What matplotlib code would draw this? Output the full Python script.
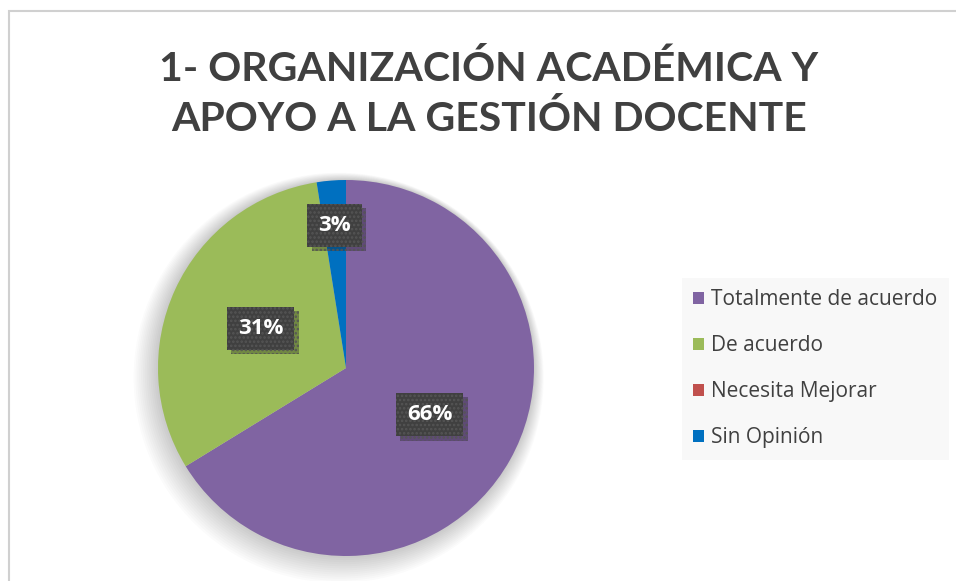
import matplotlib
matplotlib.use("Agg")
import matplotlib.pyplot as plt
from matplotlib.patches import Patch, Rectangle, Circle
import matplotlib.patheffects as pe
import math

# ---- data ----
title = "1- ORGANIZACIÓN ACADÉMICA Y\nAPOYO A LA GESTIÓN DOCENTE"
categories = ["Totalmente de acuerdo", "De acuerdo", "Necesita Mejorar", "Sin Opinión"]
counts = [53, 25, 0, 2]
colors = ["#8064A2", "#9BBB59", "#C0504D", "#0070C0"]
label_dist = [0.51, 0.50, 0.6, 0.76]

W, H = 956, 581
fig = plt.figure(figsize=(W / 100, H / 100), dpi=100)
fig.patch.set_facecolor("white")

# outer chart frame (light gray), right/bottom edges run off the picture
fig.add_artist(Rectangle((9 / W, -0.1), 1.2, 1 - 11 / H + 0.1, transform=fig.transFigure,
                         fill=False, ec="#d0d0d0", lw=1.5))

fig.text(489 / W, 1 - 94 / H, title, ha="center", va="center", fontsize=29.5,
         fontweight="bold", color="#404040", family="Lato", linespacing=1.4)

cx, cy, r = 346, 368, 188
ax = fig.add_axes([(cx - r) / W, (H - cy - r) / H, 2 * r / W, 2 * r / H])
ax.axis("off")

# soft shadow around pie
for k in range(14):
    ax.add_patch(Circle((-0.003 * k, -0.004 * k), 1 + 0.007 * k, color="black",
                        alpha=0.014, zorder=0, lw=0, clip_on=False))

wedges, _ = ax.pie(counts, colors=colors, startangle=90, counterclock=False,
                   radius=1, wedgeprops=dict(lw=0))
for w in wedges:
    w.set_zorder(2)
ax.set_xlim(-1, 1)
ax.set_ylim(-1, 1)
ax.set_aspect("equal")

total = sum(counts)
plt.rcParams["hatch.linewidth"] = 1.2
for w, c, d in zip(wedges, counts, label_dist):
    if c == 0:
        continue
    ang = math.radians((w.theta1 + w.theta2) / 2)
    x, y = d * math.cos(ang), d * math.sin(ang)
    pct = int(100 * c / total + 0.5)
    t = ax.text(x, y, f"{pct}%", ha="center", va="center", fontsize=16, fontweight="bold",
                color="white", family="Open Sans", zorder=5,
                bbox=dict(boxstyle="square,pad=0.5", fc="#404040", ec="#555555",
                          lw=0, hatch="...."))
    t.get_bbox_patch().set_path_effects([pe.SimplePatchShadow(offset=(3, -3), alpha=0.3),
                                         pe.Normal()])

handles = [Patch(fc=c, ec="none") for c in colors]
leg = fig.legend(handles, categories, loc="upper left", bbox_to_anchor=(682 / W, 1 - 278 / H),
                 frameon=True, fancybox=False, borderaxespad=0,
                 prop=dict(family="Open Sans", size=15), handlelength=0.5, handleheight=0.5,
                 handletextpad=0.35, labelspacing=1.2, borderpad=0.55)
leg.get_frame().set_facecolor("#f7f7f7")
leg.get_frame().set_edgecolor("none")
for t in leg.get_texts():
    t.set_color("#404040")

fig.savefig("out.png", dpi=100)
